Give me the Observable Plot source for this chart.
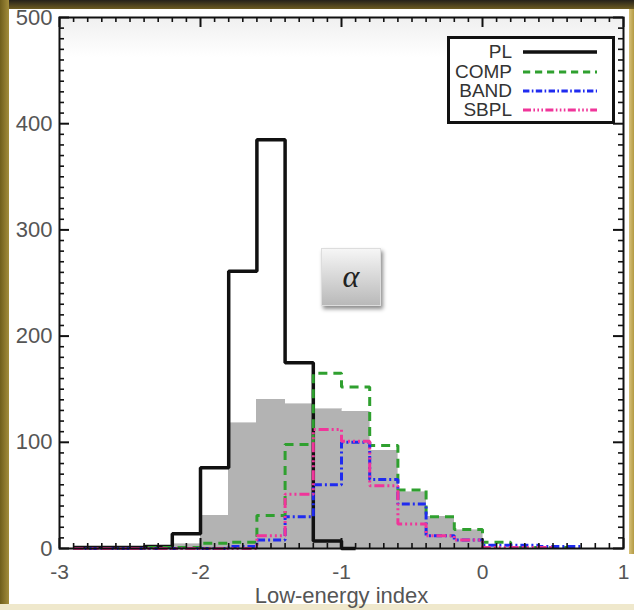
<!DOCTYPE html>
<html><head><meta charset="utf-8">
<script src="https://cdn.jsdelivr.net/npm/d3@7"></script>
<script src="https://cdn.jsdelivr.net/npm/@observablehq/plot@0.6"></script>
<style>
body{margin:0;background:#fff;overflow:hidden}
#wrap{position:relative;width:634px;height:610px;overflow:hidden;background:#fff;font-family:"Liberation Sans",Arial,sans-serif}
.deco{position:absolute}
#chart{position:absolute;left:0;top:0}
#legend{position:absolute;left:447px;top:36px;width:162px;height:82px;border:3px solid #111;background:#fff}
.lrow{position:absolute;left:0;width:162px;height:20px}
.lrow span{position:absolute;right:100px;top:0;font-size:19px;line-height:20px;color:#333}
.lrow svg{position:absolute;left:73px;top:0}
#alpha{position:absolute;left:321px;top:248px;width:60px;height:58px;background:linear-gradient(#f6f6f6,#b9b9b9);box-shadow:2px 3px 4px rgba(0,0,0,0.45);border:1px solid #ddd;box-sizing:border-box;font-family:"Liberation Serif","DejaVu Serif",serif;font-style:italic;font-size:32px;color:#222;text-align:center;line-height:54px}
</style></head><body>
<div id="wrap">
  <div class="deco" style="left:59px;top:17px;width:564px;height:40px;background:linear-gradient(#efefef,#ffffff)"></div>
  <div class="deco" style="left:0;top:0;width:634px;height:9px;background:linear-gradient(#25211a,#6d5c22)"></div>
  <div class="deco" style="left:0;top:0;width:9px;height:610px;background:linear-gradient(90deg,#6f5e1c,#a38d3c)"></div>
  <div class="deco" style="left:629px;top:9px;width:5px;height:545px;background:linear-gradient(90deg,#d8c27a,#b39a44)"></div>
  <div class="deco" style="left:0;top:604px;width:634px;height:6px;background:#efe8cc"></div>
  <div id="chart"></div>
  <div id="legend"></div>
  <div id="alpha">α</div>
</div>
<script>
// bin lower edges (width 0.2)
const binLo = [-3.0,-2.8,-2.6,-2.4,-2.2,-2.0,-1.8,-1.6,-1.4,-1.2,-1.0,-0.8,-0.6,-0.4,-0.2,0.0,0.2,0.4,0.6,0.8];
const binWidth = 0.2;
const lineStart = -2.9;
// gray filled histogram
const grayCounts = [0,0,0,0,4,31,118,140,136,131,129,92,53,30,17,0,0,0,0,0];
// step-line series
const plCounts   = [1,1,1,2,14,76,261,385,175,7,0,0,0,0,0,0,0,0,0,0];
const compCounts = [0,0,0,1,1,5,6,31,98,165,152,97,55,30,18,6,1,1,0,0];
const bandCounts = [0,0,0,0,0,0,2,8,30,60,100,65,42,12,8,3,3,2,2,0];
const sbplCounts = [0,0,0,0,0,0,0,12,51,112,101,59,23,12,8,1,1,1,0,0];
const seriesNames = ["PL","COMP","BAND","SBPL"];
const seriesEnds = [-0.9, 0.6, 0.7, 0.5];
const seriesColors = ["#111111","#2fa02f","#1f2bf0","#f0359a"];
const seriesDash = [null,"9,6","8,3,2,3","10,3,2,3,2,3,2,3"];
const seriesWidth = [3.5,3,3,3];
const seriesData = [plCounts, compCounts, bandCounts, sbplCounts];
// axis ticks
const yMajor = [0,100,200,300,400,500];
const yMinor = d3.range(0,501,10).filter(v => v % 100 !== 0);
const xMajor = [-3,-2,-1,0,1];
const xMinor = d3.range(-30,11,1).map(v => v/10).filter(v => !Number.isInteger(v));
const xTitle = "Low-energy index";

const grayRows = binLo.map((lo,i)=>({x1:lo, x2:lo+binWidth, v:grayCounts[i]})).filter(d=>d.v>0);

function steps(vals, end) {
  const pts = [];
  let last = 0;
  binLo.forEach((lo,i)=>{
    if (lo + binWidth <= lineStart || lo >= end) return;
    pts.push({x: Math.max(lo, lineStart), y: vals[i]});
    last = vals[i];
  });
  pts.push({x: end, y: last});
  return pts;
}

const W = 634, H = 610, mL = 59, mR = 11, mT = 17, mB = 62;
const pw = W - mL - mR, ph = H - mT - mB;
const tickStroke = "#111";

const marks = [
  Plot.rectY(grayRows, {x1:"x1", x2:"x2", y:"v", fill:"#b3b3b3", stroke:"#b3b3b3", strokeWidth:0.6, shapeRendering:"crispEdges"}),
];
seriesData.forEach((vals, k) => {
  marks.push(Plot.line(steps(vals, seriesEnds[k]), {
    x:"x", y:"y", curve:"step-after", stroke: seriesColors[k],
    strokeWidth: seriesWidth[k], strokeDasharray: seriesDash[k] || undefined,
    strokeLinejoin:"miter", strokeLinecap:"butt"
  }));
});
marks.push(
  Plot.ruleY(yMajor, {y:d=>d, insetRight: pw-10, stroke:tickStroke, strokeWidth:2}),
  Plot.ruleY(yMajor, {y:d=>d, insetLeft: pw-10, stroke:tickStroke, strokeWidth:2}),
  Plot.ruleY(yMinor, {y:d=>d, insetRight: pw-5, stroke:tickStroke, strokeWidth:1.6}),
  Plot.ruleY(yMinor, {y:d=>d, insetLeft: pw-5, stroke:tickStroke, strokeWidth:1.6}),
  Plot.ruleX(xMajor, {x:d=>d, insetTop: ph-10, stroke:tickStroke, strokeWidth:2}),
  Plot.ruleX(xMajor, {x:d=>d, insetBottom: ph-10, stroke:tickStroke, strokeWidth:2}),
  Plot.ruleX(xMinor, {x:d=>d, insetTop: ph-5, stroke:tickStroke, strokeWidth:1.6}),
  Plot.ruleX(xMinor, {x:d=>d, insetBottom: ph-5, stroke:tickStroke, strokeWidth:1.6}),
  Plot.frame({stroke:"#111", strokeWidth:2}),
  Plot.axisY(yMajor, {tickSize:0, tickPadding:7, label:null, color:"#555", tickFormat: d => String(d)}),
  Plot.axisX(xMajor, {tickSize:0, tickPadding:16, label:null, color:"#555", fontSize:21, tickFormat: d => String(d)}),
  Plot.text([xTitle], {text: d => d, frameAnchor:"bottom", dy: 47, fontSize: 22, fill:"#555", lineAnchor:"middle"})
);

const chart = Plot.plot({
  width: W, height: H,
  marginLeft: mL, marginRight: mR, marginTop: mT, marginBottom: mB,
  x: {domain:[-3,1]},
  y: {domain:[0,500]},
  style: {background:"transparent", fontFamily:"'Liberation Sans', Arial, sans-serif", fontSize:"22px", color:"#555", overflow:"visible"},
  marks
});
document.getElementById("chart").appendChild(chart);

// legend
const legend = document.getElementById("legend");
const rowTops = [3, 23, 42, 61];
seriesNames.forEach((name, k) => {
  const row = document.createElement("div");
  row.className = "lrow";
  row.style.top = rowTops[k] + "px";
  const dash = seriesDash[k] ? `stroke-dasharray="${seriesDash[k].split(',').map(v=>v*0.8).join(',')}"` : "";
  row.innerHTML = `<span>${name}</span><svg width="75" height="20"><line x1="0" y1="10" x2="74" y2="10" stroke="${seriesColors[k]}" stroke-width="${seriesWidth[k]}" ${dash}/></svg>`;
  legend.appendChild(row);
});
</script>
</body></html>
